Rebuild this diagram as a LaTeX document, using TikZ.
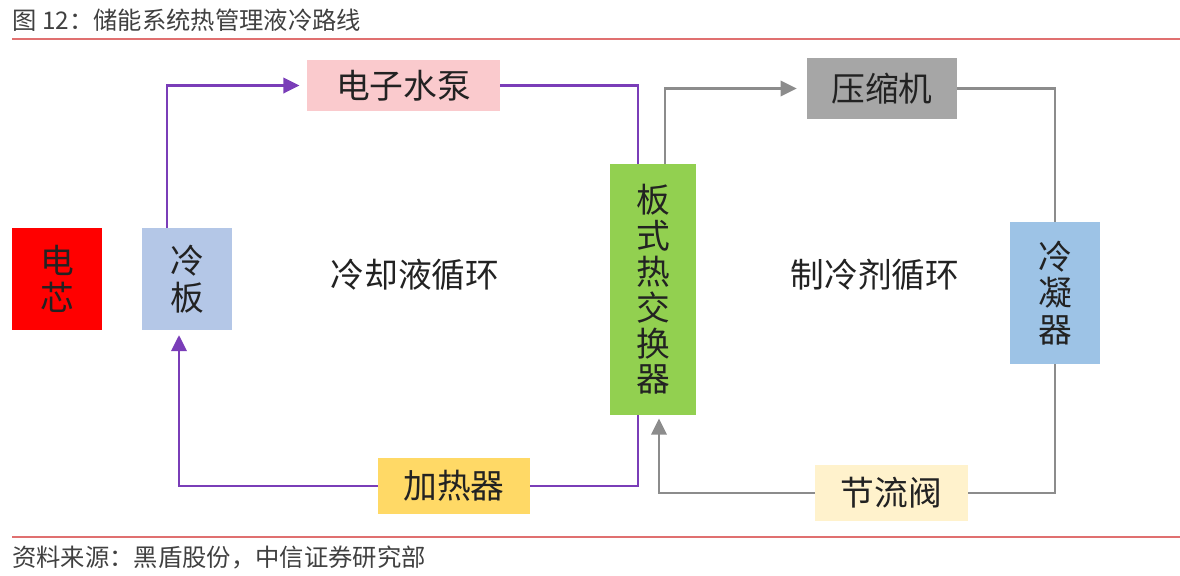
\documentclass[tikz,border=0pt]{standalone}
\usepackage{fontspec}
\setmainfont{Noto Sans CJK SC}
\usetikzlibrary{arrows.meta}
\definecolor{cRed}{HTML}{FF0000}
\definecolor{cPlate}{HTML}{B4C7E7}
\definecolor{cPump}{HTML}{FACACD}
\definecolor{cHeater}{HTML}{FFD966}
\definecolor{cHX}{HTML}{92D050}
\definecolor{cComp}{HTML}{A6A6A6}
\definecolor{cCond}{HTML}{9DC3E6}
\definecolor{cValve}{HTML}{FFF2CC}
\definecolor{cPurple}{HTML}{7A3DB8}
\definecolor{cGray}{HTML}{8C8C8C}
\definecolor{cRule}{HTML}{E07070}
\definecolor{cText}{HTML}{222222}
\definecolor{cTitle}{HTML}{404040}
\tikzset{
  blk/.style={draw=none, inner sep=0pt, align=center, text=cText,
    font=\fontsize{24}{26}\selectfont},
  pline/.style={draw=cPurple, line width=2pt},
  gline/.style={draw=cGray, line width=2pt},
  tip/.style={-{Triangle[length=0.4cm,width=0.38cm]}},
  lbl/.style={text=cText, font=\fontsize{24}{26}\selectfont},
  captxt/.style={text=cTitle, font=\fontsize{17.3}{19}\selectfont, anchor=west, inner sep=0pt},
}
\begin{document}
\begin{tikzpicture}[x=0.025cm,y=-0.025cm]
\useasboundingbox (0,0) rectangle (1180,575);
% caption and rules
\node[captxt] (title) at (12,20) {图 12：储能系统热管理液冷路线};
\coordinate (r1a) at (12,39); \coordinate (r1b) at (1180,39);
\draw[cRule, line width=1.4pt] (r1a) -- (r1b);
\coordinate (r2a) at (12,537); \coordinate (r2b) at (1180,537);
\draw[cRule, line width=1.4pt] (r2a) -- (r2b);
\node[captxt] (source) at (12,557) {资料来源：黑盾股份，中信证券研究部};
% blocks
\node[blk, fill=cRed, minimum width=2.25cm, minimum height=2.55cm] (cell) at (57,279) {电\\芯};
\node[blk, fill=cPlate, minimum width=2.25cm, minimum height=2.55cm] (plate) at (187,279) {冷\\板};
\node[blk, fill=cPump, minimum width=4.825cm, minimum height=1.275cm] (pump) at (403.5,85.5) {电子水泵};
\node[blk, fill=cHeater, minimum width=3.8cm, minimum height=1.4cm] (heater) at (454,486) {加热器};
\node[blk, fill=cHX, minimum width=2.15cm, minimum height=6.275cm, font=\fontsize{24}{25.5}\selectfont] (hx) at (653,289.5) {板\\式\\热\\交\\换\\器};
\node[blk, fill=cComp, minimum width=3.75cm, minimum height=1.525cm] (comp) at (882,88.5) {压缩机};
\node[blk, fill=cCond, minimum width=2.25cm, minimum height=3.55cm] (cond) at (1055,293) {冷\\凝\\器};
\node[blk, fill=cValve, minimum width=3.825cm, minimum height=1.4cm] (valve) at (891.5,493) {节流阀};
% loop labels
\node[lbl] (coolant) at (415,275) {冷却液循环};
\node[lbl] (refrig) at (875,275) {制冷剂循环};
% helper x positions
\coordinate (xpt) at (167,0);
\coordinate (xpb) at (179,0);
\coordinate (xhl) at (638,0);
\coordinate (xht) at (665,0);
\coordinate (xhb) at (659,0);
% coolant loop (purple)
\draw[pline, tip, shorten >=0.18cm] (plate.north -| xpt) |- (pump.west);
\draw[pline] (pump.east) -| (hx.north -| xhl);
\draw[pline] (heater.east) -| (hx.south -| xhl);
\draw[pline, tip, shorten >=0.12cm] (heater.west) -| (plate.south -| xpb);
% refrigerant loop (gray)
\draw[gline, tip, shorten >=0.25cm] (hx.north -| xht) |- (comp.west);
\draw[gline] (comp.east) -| (cond.north);
\draw[gline] (cond.south) |- (valve.east);
\draw[gline, tip, shorten >=0.08cm] (valve.west) -| (hx.south -| xhb);
\end{tikzpicture}
\end{document}
